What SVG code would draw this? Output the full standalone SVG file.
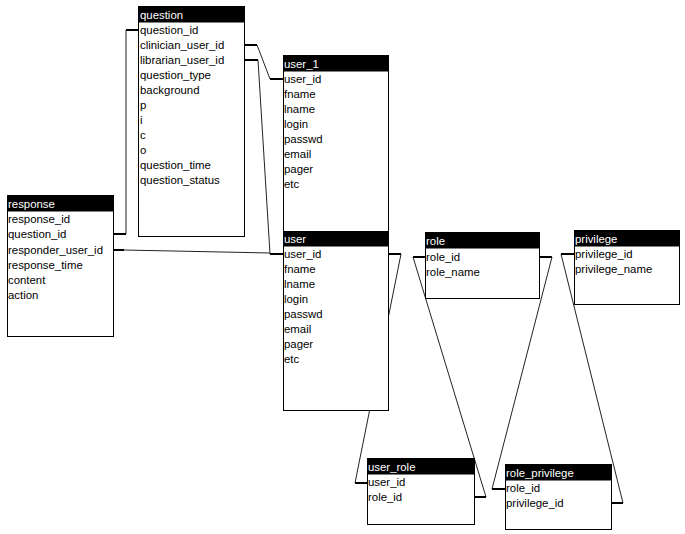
<svg xmlns="http://www.w3.org/2000/svg" width="685" height="534" viewBox="0 0 685 534">
<style>
.box{fill:#fff;stroke:#000;stroke-width:1}
.hd{fill:#000}
.ht{fill:#fff;font-family:"Liberation Sans",Arial,sans-serif;font-size:11.4px}
.t{fill:#000;font-family:"Liberation Sans",Arial,sans-serif;font-size:11.4px}
.ln{fill:none;stroke:#222;stroke-width:1}
.stub{fill:none;stroke:#000;stroke-width:2}
</style>
<rect width="685" height="534" fill="#fff"/>
<g id="connectors">
<polyline class="ln" points="126,30 126,234"/>
<line class="stub" x1="138" y1="30" x2="126" y2="30"/>
<line class="stub" x1="126" y1="234" x2="113" y2="234"/>
<polyline class="ln" points="257,45 270,79"/>
<line class="stub" x1="245" y1="45" x2="257" y2="45"/>
<line class="stub" x1="270" y1="79" x2="283" y2="79"/>
<polyline class="ln" points="258,60 270,254"/>
<line class="stub" x1="245" y1="60" x2="258" y2="60"/>
<polyline class="ln" points="124,250 270,253"/>
<line class="stub" x1="113" y1="250" x2="124" y2="250"/>
<line class="stub" x1="270" y1="254" x2="283" y2="254"/>
<polyline class="ln" points="401,254 355,483"/>
<line class="stub" x1="388" y1="254" x2="401" y2="254"/>
<line class="stub" x1="355" y1="483" x2="367" y2="483"/>
<polyline class="ln" points="413,257 486,497"/>
<line class="stub" x1="425" y1="257" x2="413" y2="257"/>
<line class="stub" x1="486" y1="497" x2="474" y2="497"/>
<polyline class="ln" points="552,257 492,489"/>
<line class="stub" x1="539" y1="257" x2="552" y2="257"/>
<line class="stub" x1="492" y1="489" x2="505" y2="489"/>
<polyline class="ln" points="561,254 623,503"/>
<line class="stub" x1="574" y1="254" x2="561" y2="254"/>
<line class="stub" x1="623" y1="503" x2="611" y2="503"/>
</g>
<g id="question">
<rect class="box" x="138.5" y="6.5" width="106" height="230"/>
<rect class="hd" x="138.5" y="6.5" width="106" height="16"/>
<text class="ht" x="140" y="19">question</text>
<text class="t" x="140" y="34">question_id</text>
<text class="t" x="140" y="49">clinician_user_id</text>
<text class="t" x="140" y="64">librarian_user_id</text>
<text class="t" x="140" y="79">question_type</text>
<text class="t" x="140" y="94">background</text>
<text class="t" x="140" y="109">p</text>
<text class="t" x="140" y="124">i</text>
<text class="t" x="140" y="139">c</text>
<text class="t" x="140" y="154">o</text>
<text class="t" x="140" y="169">question_time</text>
<text class="t" x="140" y="184">question_status</text>
</g>
<g id="user_1">
<rect class="box" x="283.5" y="55.5" width="105" height="177"/>
<rect class="hd" x="283.5" y="55.5" width="105" height="16"/>
<text class="ht" x="284" y="68">user_1</text>
<text class="t" x="284" y="83">user_id</text>
<text class="t" x="284" y="98">fname</text>
<text class="t" x="284" y="113">lname</text>
<text class="t" x="284" y="128">login</text>
<text class="t" x="284" y="143">passwd</text>
<text class="t" x="284" y="158">email</text>
<text class="t" x="284" y="173">pager</text>
<text class="t" x="284" y="188">etc</text>
</g>
<g id="response">
<rect class="box" x="7.5" y="195.5" width="106" height="141"/>
<rect class="hd" x="7.5" y="195.5" width="106" height="16"/>
<text class="ht" x="8" y="208">response</text>
<text class="t" x="8" y="223">response_id</text>
<text class="t" x="8" y="238">question_id</text>
<text class="t" x="8" y="254">responder_user_id</text>
<text class="t" x="8" y="269">response_time</text>
<text class="t" x="8" y="284">content</text>
<text class="t" x="8" y="299">action</text>
</g>
<g id="user">
<rect class="box" x="283.5" y="231.5" width="105" height="179"/>
<rect class="hd" x="283.5" y="231.5" width="105" height="15"/>
<text class="ht" x="284" y="243">user</text>
<text class="t" x="284" y="258">user_id</text>
<text class="t" x="284" y="273">fname</text>
<text class="t" x="284" y="288">lname</text>
<text class="t" x="284" y="303">login</text>
<text class="t" x="284" y="318">passwd</text>
<text class="t" x="284" y="333">email</text>
<text class="t" x="284" y="348">pager</text>
<text class="t" x="284" y="363">etc</text>
</g>
<g id="role">
<rect class="box" x="425.5" y="232.5" width="114" height="66"/>
<rect class="hd" x="425.5" y="232.5" width="114" height="16"/>
<text class="ht" x="426" y="245">role</text>
<text class="t" x="426" y="261">role_id</text>
<text class="t" x="426" y="276">role_name</text>
</g>
<g id="privilege">
<rect class="box" x="574.5" y="230.5" width="105" height="74"/>
<rect class="hd" x="574.5" y="230.5" width="105" height="16"/>
<text class="ht" x="575" y="243">privilege</text>
<text class="t" x="575" y="258">privilege_id</text>
<text class="t" x="575" y="273">privilege_name</text>
</g>
<g id="user_role">
<rect class="box" x="367.5" y="458.5" width="107" height="66"/>
<rect class="hd" x="367.5" y="458.5" width="107" height="16"/>
<text class="ht" x="368" y="471">user_role</text>
<text class="t" x="368" y="486">user_id</text>
<text class="t" x="368" y="501">role_id</text>
</g>
<g id="role_privilege">
<rect class="box" x="505.5" y="464.5" width="106" height="65"/>
<rect class="hd" x="505.5" y="464.5" width="106" height="16"/>
<text class="ht" x="506" y="477">role_privilege</text>
<text class="t" x="506" y="492">role_id</text>
<text class="t" x="506" y="507">privilege_id</text>
</g>
</svg>
